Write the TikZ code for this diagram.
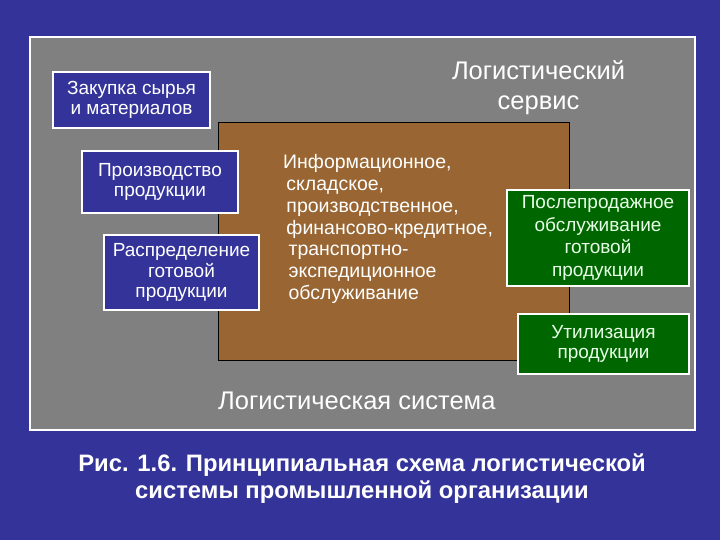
\documentclass[tikz,border=0pt]{standalone}
\usepackage{fontspec}
\setmainfont{Liberation Sans}

\definecolor{slideblue}{RGB}{51,51,153}
\definecolor{panelgray}{RGB}{128,128,128}
\definecolor{servbrown}{RGB}{153,102,51}
\definecolor{postgreen}{RGB}{0,102,0}

\tikzset{
	stage/.style={draw=white, line width=1.5pt, fill=slideblue, text=white,
		align=center, font=\fontsize{19}{20.5}\selectfont, inner sep=0pt},
	after/.style={stage, fill=postgreen, text={rgb,255:red,230;green,255;blue,230}},
	heading/.style={text=white, align=center, font=\fontsize{25.5}{30}\selectfont}
}

\begin{document}
\begin{tikzpicture}[x=1pt, y=-1pt]

\useasboundingbox (0,0) rectangle (720,540);
\fill[slideblue] (0,0) rectangle (720,540);

% logistic system panel and service area
\draw[white, line width=2pt, fill=panelgray] (30,37) rectangle (695,430);
\draw[black, line width=0.6pt, fill=servbrown] (218,122) rectangle (569,360);

\node[heading] (service) at (538.5,88) {Логистический\\сервис};
\node[heading, anchor=west, inner sep=0pt] (system) at (218,401) {Логистическая система};

\node[text=white, align=left, anchor=west, inner sep=0pt, font=\fontsize{19.5}{21.8}\selectfont] (kinds) at (283,229)
	{Информационное,\\ \,складское,\\ \,производственное,\\ \,финансово-кредитное,\\
	 \;транспортно-\\ \;экспедиционное\\ \;обслуживание};

% stages
\node[stage, minimum width=157pt, minimum height=56pt] (buy) at (131.5,100) {Закупка сырья\\и материалов};
\node[stage, minimum width=156pt, minimum height=62pt] (make) at (160,182) {Производство\\продукции};
\node[stage, minimum width=155pt, minimum height=75pt] (ship) at (181.5,272.5) {Распределение\\готовой\\продукции};

\node[after, minimum width=182pt, minimum height=96pt, font=\fontsize{19}{22.5}\selectfont] (care) at (598,238) {Послепродажное\\обслуживание\\готовой\\продукции};
\node[after, minimum width=171pt, minimum height=60pt] (waste) at (603.5,344) {Утилизация\\продукции};

% caption
\node[text=white, align=center, font=\bfseries\fontsize{23.8}{27}\selectfont] (caption) at (362,479)
	{Рис. 1.6. Принципиальная схема логистической\\системы промышленной организации};

\end{tikzpicture}
\end{document}
